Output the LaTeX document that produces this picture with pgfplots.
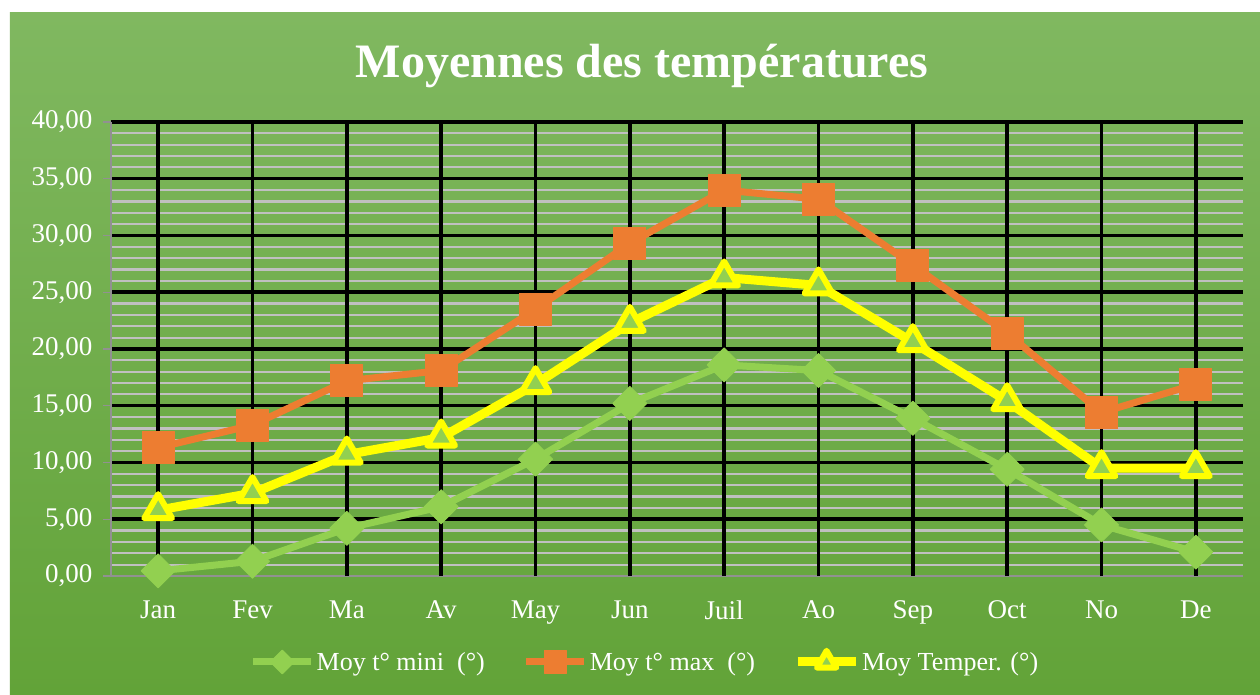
\documentclass[border=0pt]{standalone}
\usepackage{pgfplots}
\pgfplotsset{compat=1.18}
\usepackage{fontspec}
\setmainfont{Liberation Serif}
\definecolor{bgtop}{RGB}{128,184,96}
\definecolor{bgbot}{RGB}{98,163,56}
\definecolor{cmin}{RGB}{146,208,80}
\definecolor{cmax}{RGB}{237,125,49}
\definecolor{cmoy}{RGB}{255,255,0}
\definecolor{gridgray}{RGB}{192,192,192}
\definecolor{axgray}{RGB}{145,145,145}

\begin{document}
\begin{tikzpicture}[x=1pt,y=1pt]
\useasboundingbox (-111,-119) rectangle (1149,576);
\fill[white] (-111,-119) rectangle (1149,576);
\shade[top color=bgtop,bottom color=bgbot] (-101,-119) rectangle (1149,563);
\node[text=white,font=\fontsize{48}{54}\selectfont\bfseries] at (531,510) {Moyennes des températures};
\begin{axis}[
  at={(0,0)},anchor=south west,
  scale only axis,width=1132pt,height=454pt,
  xmin=-0.5,xmax=11.5,ymin=0,ymax=40,
  xtick=\empty,
  minor xtick={-0.5,0.5,...,11.5},
  extra x ticks={0,...,11},
  extra x tick labels={Jan,Fev,Ma,Av,May,Jun,Juil,Ao,Sep,Oct,No,De},
  extra x tick style={grid=major,major tick length=0pt,major x tick style={draw=none}},
  ytick={5,10,...,40},
  minor ytick={1,2,...,39},
  extra y ticks={0},
  extra y tick style={grid=none},
  grid=both,
  major grid style={black,line width=3.5pt},
  minor x grid style={axgray,line width=1.3pt},
  minor y grid style={gridgray,line width=2.2pt},
  axis x line*=bottom,axis y line*=left,
  axis line style={axgray,line width=1.3pt,-},
  tick align=outside,major tick length=8pt,minor tick length=9pt,
  tick style={axgray,line width=1.3pt},
  minor y tick style={draw=none},
  ticklabel style={font=\fontsize{27}{31}\selectfont,text=white},
  xticklabel style={yshift=-21pt},
  yticklabel style={xshift=-7pt,/pgf/number format/.cd,fixed,fixed zerofill,precision=2,use comma},
  /pgf/number format/assume math mode=true,
  legend columns=3,
  legend style={at={(0.4717,-0.1894)},anchor=center,draw=none,fill=none,
    text=white,font=\fontsize{26}{30}\selectfont,
    /tikz/every even column/.append style={column sep=36pt}},
  legend image code/.code={%
    \draw[mark repeat=2,mark phase=2,#1,every mark/.append style={scale=0.7}]
      plot coordinates {(0pt,0pt)(29pt,0pt)(58pt,0pt)};},
]
\addplot[cmin,line width=7pt,line join=round,mark=square*,mark size=12pt,
  mark options={rotate=45,rounded corners=2pt,fill=cmin,draw=cmin,line width=1pt}]
  coordinates {(0,0.45)(1,1.3)(2,4.2)(3,6.1)(4,10.3)(5,15.2)(6,18.6)(7,18.1)(8,13.9)(9,9.4)(10,4.5)(11,2.1)};
\addlegendentry{Moy t° mini\ \ (°)}
\addplot[cmax,line width=7pt,line join=round,mark=square*,mark size=16pt,
  mark options={rounded corners=3pt,fill=cmax,draw=cmax,line width=1pt}]
  coordinates {(0,11.3)(1,13.3)(2,17.2)(3,18.1)(4,23.5)(5,29.3)(6,34.0)(7,33.2)(8,27.4)(9,21.4)(10,14.4)(11,16.9)};
\addlegendentry{Moy t° max\ \ (°)}
\addplot[cmoy,line width=9pt,line join=round,mark=triangle*,mark size=16pt,
  mark options={fill=cmin,draw=cmoy,line width=6pt,line join=round}]
  coordinates {(0,5.8)(1,7.3)(2,10.7)(3,12.2)(4,16.9)(5,22.3)(6,26.3)(7,25.6)(8,20.6)(9,15.4)(10,9.5)(11,9.5)};
\addlegendentry{Moy Temper. (°)}
\end{axis}
\end{tikzpicture}
\end{document}
